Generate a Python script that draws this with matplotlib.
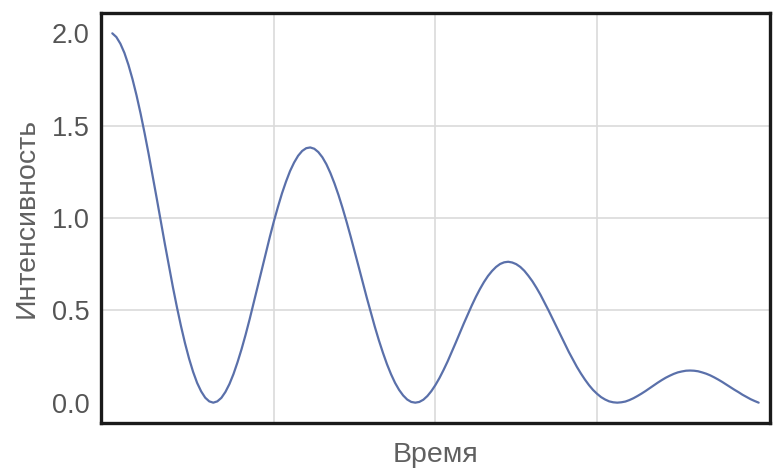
import matplotlib
matplotlib.use("Agg")
import matplotlib.pyplot as plt

# Time samples (step 0.025) and intensity values
time = [round(0.025 * k, 3) for k in range(161)]
intensity = [
    2.000, 1.980, 1.944, 1.894, 1.829, 1.752, 1.664, 1.566, 1.459, 1.346,
    1.227, 1.106, 0.983, 0.861, 0.742, 0.626, 0.517, 0.415, 0.322, 0.239,
    0.167, 0.107, 0.061, 0.027, 0.007, 0.000, 0.007, 0.026, 0.058, 0.101,
    0.155, 0.219, 0.290, 0.368, 0.452, 0.540, 0.630, 0.720, 0.810, 0.898,
    0.982, 1.060, 1.133, 1.197, 1.254, 1.300, 1.337, 1.363, 1.378, 1.382,
    1.375, 1.357, 1.329, 1.291, 1.243, 1.187, 1.124, 1.054, 0.979, 0.900,
    0.818, 0.735, 0.651, 0.568, 0.488, 0.410, 0.337, 0.270, 0.208, 0.154,
    0.107, 0.069, 0.039, 0.017, 0.004, 0.000, 0.004, 0.016, 0.036, 0.063,
    0.096, 0.134, 0.177, 0.223, 0.273, 0.324, 0.376, 0.428, 0.478, 0.527,
    0.573, 0.615, 0.653, 0.686, 0.713, 0.735, 0.751, 0.760, 0.763, 0.759,
    0.750, 0.735, 0.714, 0.687, 0.657, 0.622, 0.584, 0.542, 0.499, 0.454,
    0.409, 0.364, 0.319, 0.275, 0.234, 0.194, 0.158, 0.125, 0.095, 0.069,
    0.048, 0.030, 0.017, 0.007, 0.002, 0.000, 0.002, 0.006, 0.014, 0.024,
    0.036, 0.049, 0.063, 0.078, 0.093, 0.108, 0.122, 0.135, 0.146, 0.156,
    0.164, 0.169, 0.173, 0.174, 0.173, 0.170, 0.164, 0.157, 0.148, 0.137,
    0.125, 0.112, 0.098, 0.084, 0.070, 0.057, 0.043, 0.031, 0.019, 0.009,
    0.000,
]
y_ticks = [0.0, 0.5, 1.0, 1.5, 2.0]
y_tick_labels = ["0.0", "0.5", "1.0", "1.5", "2.0"]
x_grid = [1, 2, 3]
y_grid = [0.5, 1.0, 1.5]

plt.rcParams['font.family'] = ['Liberation Sans', 'DejaVu Sans']

fig = plt.figure(figsize=(7.75, 4.68), dpi=100)
ax = fig.add_axes([0.1303, 0.0962, 0.8632, 0.8760])

for gx in x_grid:
    ax.axvline(gx, color="#dadada", linewidth=1.2, zorder=0)
for gy in y_grid:
    ax.axhline(gy, color="#dadada", linewidth=1.2, zorder=0)

ax.plot(time, intensity, color="#5a70aa", linewidth=1.6, solid_capstyle="round", zorder=2)

ax.set_xlim(-0.07, 4.07)
ax.set_ylim(-0.11, 2.11)

ax.set_xticks([])
ax.set_yticks(y_ticks)
ax.set_yticklabels(y_tick_labels)
ax.tick_params(which="both", length=0)
ax.tick_params(axis="y", labelsize=19.5, labelcolor="#555555", pad=8)

for s in ax.spines.values():
    s.set_linewidth(2.4)
    s.set_color("#1a1a1a")

ax.set_xlabel("Время", fontsize=20.5, color="#606060", labelpad=14)
ax.set_ylabel("Интенсивность", fontsize=20.5, color="#606060", labelpad=9)

fig.savefig("out.png", dpi=100)
